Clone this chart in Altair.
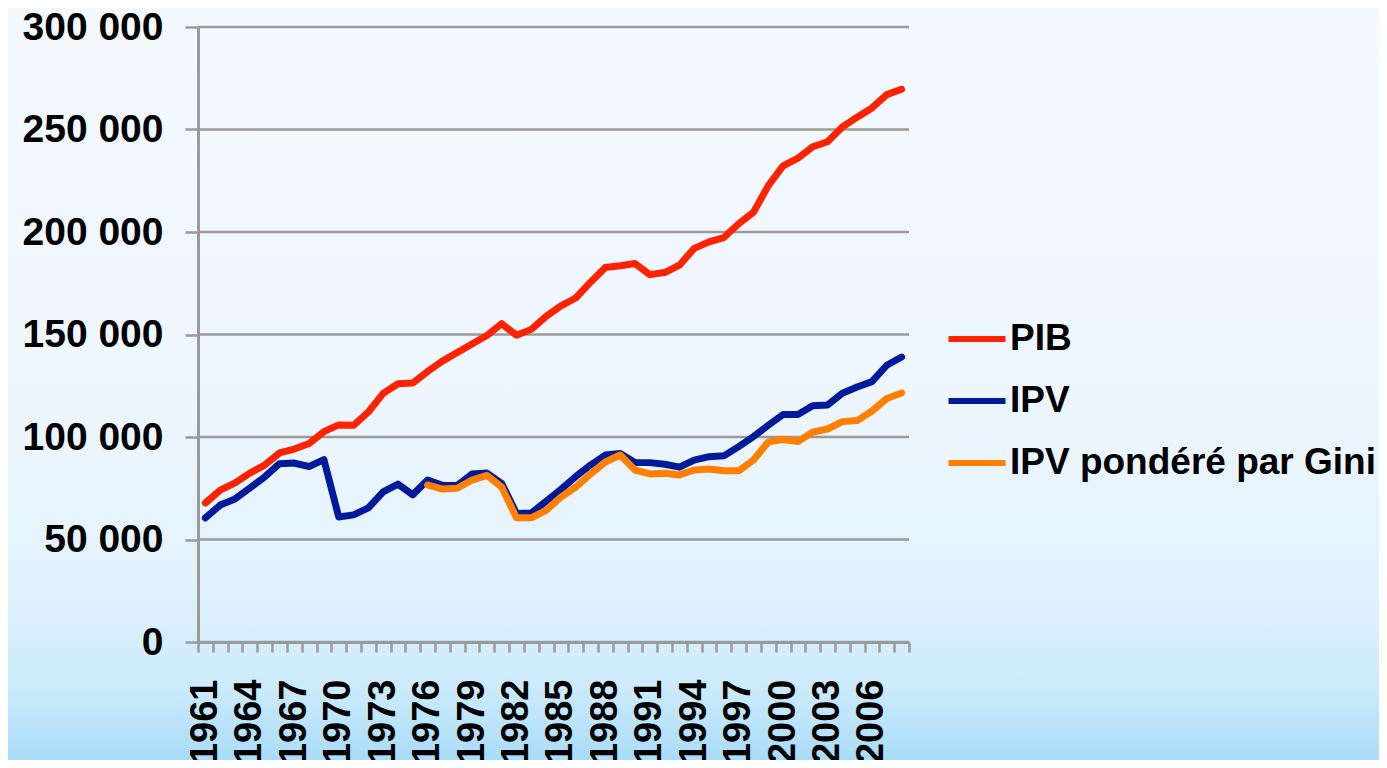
import altair as alt
import pandas as pd

years = list(range(1961, 2009))
pib = [67800, 74100, 77600, 82400, 86300, 92200, 94100, 96800, 102600, 105900,
       105700, 112200, 121300, 126000, 126300, 132000, 137000, 141200, 145400, 149500,
       155300, 149600, 152500, 158800, 164000, 167800, 175500, 182700, 183500, 184600,
       179200, 180200, 183800, 192000, 195200, 197300, 204000, 209600, 222600, 232300,
       236000, 241600, 244000, 251200, 256000, 260500, 267000, 269600]
ipv = [60500, 66800, 69800, 75100, 80500, 87000, 87300, 85600, 89000, 61000,
       62000, 65400, 73200, 77000, 71800, 79000, 76400, 76300, 82000, 82400,
       77400, 62700, 62900, 68600, 74400, 80700, 86300, 91200, 92000, 87600,
       87500, 86700, 85300, 88700, 90400, 90800, 95300, 100200, 105700, 111000,
       111000, 115300, 115600, 121300, 124400, 127000, 135000, 139000]
gini_years = list(range(1976, 2009))
gini = [76600, 74600, 75000, 79000, 81300, 75600, 60600, 60600, 64200, 70700,
        75600, 82000, 87800, 91200, 83900, 82000, 82300, 81500, 83900, 84400,
        83500, 83500, 88800, 97600, 98800, 97800, 102400, 103900, 107500, 108000,
        112700, 118800, 121500]

series_names = ["PIB", "IPV", "IPV pondéré par Gini"]
colors = ["#FF2200", "#001A9C", "#FF7F00"]
y_ticks = [0, 50000, 100000, 150000, 200000, 250000, 300000]

rows = []
for yr, v in zip(years, pib):
    rows.append({"year": yr, "value": v, "series": series_names[0]})
for yr, v in zip(years, ipv):
    rows.append({"year": yr, "value": v, "series": series_names[1]})
for yr, v in zip(gini_years, gini):
    rows.append({"year": yr, "value": v, "series": series_names[2]})
df = pd.DataFrame(rows)
grid_df = pd.DataFrame({"value": y_ticks})

W, H = 711, 615
PAD_L, PAD_T, PAD_R, PAD_B = 190, 19, 470, 118
FONT = "Liberation Sans, Arial, sans-serif"
GRID = "#9A9A9A"

y_scale = alt.Scale(domain=[0, 300000])
y_axis = alt.Axis(
    title=None, values=y_ticks, grid=False, zindex=1,
    labelExpr="datum.value == 0 ? '0' : floor(datum.value / 1000) + ' 000'",
    tickSize=13, tickWidth=2.5, tickColor=GRID, domainColor=GRID, domainWidth=3,
    labelFont=FONT, labelFontSize=39, labelFontWeight="bold",
    labelColor="black", labelPadding=22,
)

bg = alt.Chart(pd.DataFrame({"k": [0]})).mark_rect(
    clip=False,
    fill=alt.Gradient(
        gradient="linear", x1=0, x2=0, y1=0, y2=1,
        stops=[
            alt.GradientStop(offset=0, color="#F3F9FE"),
            alt.GradientStop(offset=0.5, color="#EEF6FE"),
            alt.GradientStop(offset=0.75, color="#E3F3FD"),
            alt.GradientStop(offset=0.9, color="#CDEBFC"),
            alt.GradientStop(offset=1, color="#A9DCF9"),
        ],
    ),
).encode(
    x=alt.value(-PAD_L), x2=alt.value(W + PAD_R),
    y=alt.value(-PAD_T), y2=alt.value(H + PAD_B),
)

grid = alt.Chart(grid_df).mark_rule(color=GRID, strokeWidth=2.5).encode(
    y=alt.Y("value:Q", scale=y_scale, axis=y_axis),
    x=alt.value(0), x2=alt.value(W),
)

lines = alt.Chart(df).mark_line(strokeWidth=7, strokeCap="round", strokeJoin="round").encode(
    x=alt.X(
        "year:O",
        bandPosition=0.5,
        scale=alt.Scale(type="band", paddingInner=0, paddingOuter=0),
        axis=alt.Axis(
            title=None, labelAngle=-90, grid=False, zindex=1,
            labelExpr="(datum.value - 1961) % 3 == 0 ? datum.label : ''",
            labelOverlap=False, tickBand="extent", tickSize=10, tickWidth=2.5,
            tickColor=GRID, domainColor=GRID, domainWidth=3,
            labelFont=FONT, labelFontSize=38, labelFontWeight="bold",
            labelColor="black", labelPadding=27,
        ),
    ),
    y=alt.Y("value:Q", scale=y_scale, axis=y_axis),
    color=alt.Color(
        "series:N",
        sort=series_names,
        scale=alt.Scale(domain=series_names, range=colors),
        legend=alt.Legend(
            title=None, orient="none", legendX=747, legendY=280,
            symbolType="stroke", symbolSize=3250, symbolStrokeWidth=6,
            labelFont=FONT, labelFontSize=37, labelFontWeight="bold",
            labelColor="black", labelOffset=1, rowPadding=12, padding=0, labelLimit=0,
        ),
    ),
)

chart = alt.layer(bg, grid, lines).properties(
    width=W, height=H,
    padding={"left": PAD_L, "top": PAD_T, "right": PAD_R, "bottom": PAD_B},
    autosize=alt.AutoSizeParams(type="none"),
    background="#F3F9FE",
).configure_view(stroke=None)

chart.save("out.html", embed_options={"renderer": "svg", "actions": False})
